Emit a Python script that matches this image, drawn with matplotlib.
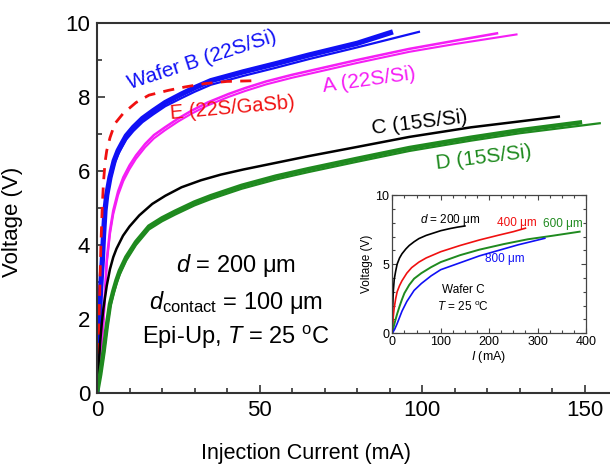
import numpy as np
import matplotlib
matplotlib.use("Agg")
import matplotlib.pyplot as plt
from matplotlib.ticker import MultipleLocator

plt.rcParams['font.family'] = ['Liberation Sans', 'DejaVu Sans']
plt.rcParams['mathtext.fontset'] = 'custom'
plt.rcParams['mathtext.rm'] = 'Liberation Sans'
plt.rcParams['mathtext.it'] = 'Liberation Sans:italic'

# ---- main panel data (current mA, voltage V) ----
b_I = [0, 0.25, 0.5, 0.75, 1, 1.3, 1.64, 2, 2.46, 3, 4, 5.3, 6.5, 7.6, 9, 11.2, 14,
       17.3, 21, 26, 30, 35, 45, 55, 65, 80, 91]
b_V = [0, 0.6, 1.3, 2.0, 2.6, 3.1, 3.58, 4.25, 4.93, 5.35, 5.83, 6.28, 6.55, 6.73,
       6.95, 7.18, 7.42, 7.63, 7.85, 8.08, 8.25, 8.44, 8.68, 8.9, 9.13, 9.45, 9.76]
b2_I = [0, 0.25, 0.5, 0.75, 1, 1.3, 1.64, 2, 2.46, 3, 4, 5.3, 6.5, 7.6, 9, 11.2, 14,
        17.3, 21, 26, 30, 35, 45, 55, 65, 80, 99]
b2_V = [0, 0.55, 1.2, 1.9, 2.5, 3.0, 3.48, 4.15, 4.83, 5.25, 5.73, 6.18, 6.45, 6.63,
        6.85, 7.08, 7.32, 7.53, 7.75, 7.97, 8.14, 8.33, 8.57, 8.79, 9.02, 9.34, 9.76]

a_I = [0, 1, 2, 2.5, 3, 4, 5, 6.5, 8.1, 10, 12, 14.8, 17.5, 20.9, 25, 29.1, 34, 40.4,
       45.5, 52, 60, 70, 80, 96, 110, 123]
a_V = [0, 0.9, 2.0, 2.8, 3.6, 4.4, 4.93, 5.45, 5.83, 6.15, 6.42, 6.73, 6.97, 7.18,
       7.42, 7.63, 7.85, 8.08, 8.24, 8.42, 8.6, 8.8, 9.0, 9.3, 9.52, 9.72]
a2_I = [0, 1, 2, 2.5, 3, 4, 5, 6.5, 8.1, 10, 12, 14.8, 17.5, 20.9, 25, 29.1, 34, 40.4,
        45.5, 52, 60, 70, 80, 96, 110, 129]
a2_V = [0, 0.85, 1.9, 2.7, 3.5, 4.3, 4.83, 5.35, 5.73, 6.05, 6.33, 6.64, 6.88, 7.1,
        7.34, 7.55, 7.77, 8.0, 8.16, 8.34, 8.52, 8.72, 8.92, 9.22, 9.43, 9.69]

e_I = [0, 0.4, 0.8, 1.2, 1.6, 2, 2.5, 3, 4, 5.5, 8, 12, 16, 22, 27, 33, 40, 48.6]
e_V = [0, 1.3, 2.6, 4.0, 5.0, 5.7, 6.25, 6.55, 6.9, 7.28, 7.55, 7.85, 8.05, 8.18, 8.27,
       8.36, 8.42, 8.44]

c_I = [0, 0.5, 1, 1.5, 2, 3, 4, 5, 6, 8, 10, 13, 17, 21, 26, 32, 38, 45, 55, 65, 80,
       96, 115, 130, 142]
c_V = [0, 0.7, 1.4, 1.9, 2.3, 2.9, 3.35, 3.67, 3.9, 4.25, 4.5, 4.8, 5.11, 5.33, 5.56,
       5.75, 5.9, 6.04, 6.22, 6.4, 6.65, 6.92, 7.18, 7.34, 7.47]

d_I = [0, 1, 2, 3, 4, 5, 6, 7, 9, 12, 16, 20, 24, 30, 35, 44.5, 55, 65, 80, 96, 115,
       130, 148.5]
d_V = [0, 0.5, 1.1, 1.8, 2.4, 2.75, 3.05, 3.3, 3.67, 4.08, 4.5, 4.72, 4.9, 5.15, 5.32,
       5.6, 5.85, 6.05, 6.33, 6.62, 6.9, 7.1, 7.31]
d2_I = [0, 1, 2, 3, 4, 5, 6, 7, 9, 12, 16, 20, 24, 30, 35, 44.5, 55, 65, 80, 96, 115,
        130, 154.6]
d2_V = [0, 0.45, 1.0, 1.7, 2.3, 2.65, 2.95, 3.2, 3.58, 4.0, 4.42, 4.64, 4.82, 5.07, 5.24,
        5.52, 5.77, 5.97, 6.25, 6.54, 6.82, 7.02, 7.29]

# ---- inset data (wafer C, different diameters) ----
i200_I = [0, 1, 2, 4, 7, 10, 15, 20, 28, 35, 45, 55, 70, 85, 100, 120, 135, 150]
i200_V = [0, 2.0, 3.0, 3.9, 4.5, 5.0, 5.45, 5.75, 6.1, 6.35, 6.62, 6.85, 7.08, 7.25,
          7.42, 7.58, 7.68, 7.76]
i400_I = [0, 1, 2, 4, 7, 10, 15, 20, 30, 40, 55, 70, 100, 140, 180, 220, 250, 275]
i400_V = [0, 0.6, 1.2, 1.85, 2.5, 3.0, 3.45, 3.8, 4.35, 4.75, 5.15, 5.45, 5.9, 6.35,
          6.75, 7.1, 7.35, 7.6]
i600_I = [0, 3, 6, 10, 15, 20, 25, 35, 45, 60, 80, 100, 140, 180, 230, 280, 330, 387]
i600_V = [0, 0.5, 0.9, 1.4, 1.95, 2.45, 2.9, 3.5, 3.95, 4.35, 4.78, 5.15, 5.65, 6.05,
          6.45, 6.8, 7.05, 7.35]
i800_I = [0, 5, 10, 15, 20, 30, 45, 60, 80, 100, 140, 180, 220, 260, 315]
i800_V = [0, 0.3, 0.7, 1.15, 1.6, 2.3, 3.1, 3.6, 4.15, 4.6, 5.1, 5.6, 6.0, 6.4, 6.87]

BLUE = '#1010f5'
MAG = '#f51ef5'
RED = '#f01010'
GREEN = '#1f8a1f'

fig = plt.figure(figsize=(6.1, 4.68), dpi=100)
ax = fig.add_axes([0.159, 0.1603, 0.853, 0.7906])

ax.plot(b_I, b_V, color=BLUE, lw=3.8, solid_capstyle='butt')
ax.plot(b2_I, b2_V, color=BLUE, lw=1.6)
ax.plot(a_I, a_V, color=MAG, lw=1.8)
ax.plot(a2_I, a2_V, color=MAG, lw=1.5)
ax.plot(e_I, e_V, color=RED, lw=2.0, ls=(0, (4, 3)))
ax.plot(c_I, c_V, color='black', lw=1.8)
ax.plot(d_I, d_V, color=GREEN, lw=3.2)
ax.plot(d2_I, d2_V, color=GREEN, lw=1.6)

ax.set_xlim(0, 160)
ax.set_ylim(0, 10)
ax.xaxis.set_major_locator(MultipleLocator(50))
ax.xaxis.set_minor_locator(MultipleLocator(10))
ax.yaxis.set_major_locator(MultipleLocator(2))
ax.yaxis.set_minor_locator(MultipleLocator(1))
ax.tick_params(which='both', direction='in', labelsize=16, width=1.2, color='#333333')
ax.tick_params(which='major', length=6, pad=5)
ax.tick_params(which='minor', length=3.5)
for s in ax.spines.values():
    s.set_linewidth(1.5)
    s.set_color('#333333')
ax.set_xlabel('Injection Current (mA)', fontsize=15.5)
ax.set_ylabel('Voltage (V)', fontsize=16)
ax.xaxis.set_label_coords(0.4015, -0.135)
ax.yaxis.set_label_coords(-0.143, 0.462)

ax.text(32.3, 9.0, 'Wafer B (22S/Si)', color=BLUE, fontsize=15, rotation=18,
        ha='center', va='center')
ax.text(41.5, 7.7, 'E (22S/GaSb)', color=RED, fontsize=14.5, rotation=5,
        ha='center', va='center')
ax.text(83.6, 8.46, 'A (22S/Si)', color=MAG, fontsize=15, rotation=8,
        ha='center', va='center')
ax.text(99.3, 7.3, 'C (15S/Si)', color='black', fontsize=15, rotation=7,
        ha='center', va='center')
ax.text(119, 6.36, 'D (15S/Si)', color=GREEN, fontsize=15, rotation=7,
        ha='center', va='center')

ax.text(42.7, 3.45, r'$\mathit{d}$ = 200 μm', fontsize=17, ha='center', va='center')
ax.text(42.7, 2.45, r'$\mathit{d}_{\mathrm{contact}}$ = 100 μm', fontsize=17,
        ha='center', va='center')
ax.text(42.7, 1.5, r'Epi-Up, $\mathit{T}$ = 25 $^{\mathrm{o}}$C', fontsize=17,
        ha='center', va='center')

# ---- inset ----
ins = fig.add_axes([0.6431, 0.2878, 0.3175, 0.2955])
ins.plot(i200_I, i200_V, color='black', lw=1.2)
ins.plot(i400_I, i400_V, color=RED, lw=1.2)
ins.plot(i600_I, i600_V, color=GREEN, lw=1.4)
ins.plot(i800_I, i800_V, color=BLUE, lw=1.2)
ins.set_xlim(0, 400)
ins.set_ylim(0, 10)
ins.xaxis.set_major_locator(MultipleLocator(100))
ins.xaxis.set_minor_locator(MultipleLocator(25))
ins.yaxis.set_major_locator(MultipleLocator(5))
ins.yaxis.set_minor_locator(MultipleLocator(1))
ins.tick_params(which='both', direction='in', top=True, right=True, labelsize=9,
                width=0.8, color='#444444', pad=2)
ins.tick_params(which='major', length=3.5)
ins.tick_params(which='minor', length=2)
for s in ins.spines.values():
    s.set_linewidth(0.9)
    s.set_color('#444444')
ins.set_xlabel(r'$\mathit{I}$ (mA)', fontsize=9, labelpad=1)
ins.set_ylabel('Voltage (V)', fontsize=8.5, labelpad=2)
ins.text(119, 8.2, r'$\mathit{d}$ = 200 μm', fontsize=8.5, color='black', ha='center', va='center')
ins.text(258, 8.0, '400 μm', fontsize=8.5, color=RED, ha='center', va='center')
ins.text(352, 7.9, '600 μm', fontsize=8.5, color=GREEN, ha='center', va='center')
ins.text(232, 5.36, '800 μm', fontsize=8.5, color=BLUE, ha='center', va='center')
ins.text(146, 3.12, 'Wafer C', fontsize=8.5, ha='center', va='center')
ins.text(146, 1.9, r'$\mathit{T}$ = 25 $^{\mathrm{o}}$C', fontsize=8.5, ha='center', va='center')

fig.savefig('out.png', dpi=100)
